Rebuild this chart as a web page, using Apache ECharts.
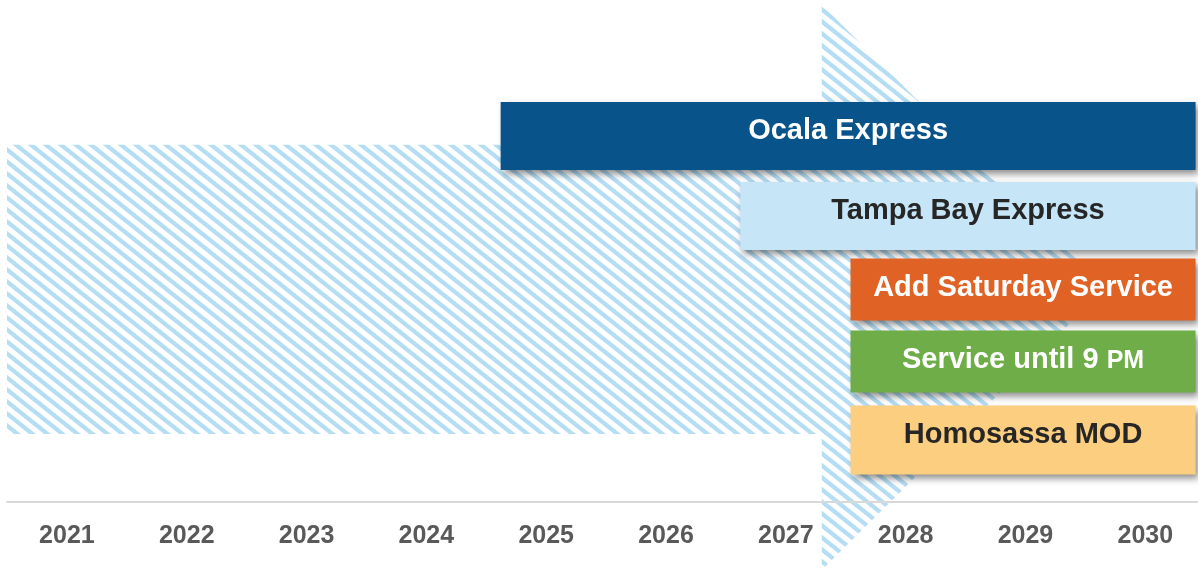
<!DOCTYPE html>
<html>
<head>
<meta charset="utf-8">
<script src="https://cdn.jsdelivr.net/npm/echarts@6/dist/echarts.min.js"></script>
<style>
  html, body { margin: 0; padding: 0; background: #fff; }
  #chart { width: 1198px; height: 571px; }
</style>
</head>
<body>
<div id="chart"></div>
<script>
// timeline data
const years = [2021, 2022, 2023, 2024, 2025, 2026, 2027, 2028, 2029, 2030]
const projects = ['Ocala Express', 'Tampa Bay Express', 'Add Saturday Service', 'Service until 9 PM', 'Homosassa MOD']
const startYear = [2024.62, 2026.62, 2027.54, 2027.54, 2027.54]
const endYear = [2030.42, 2030.42, 2030.42, 2030.42, 2030.42]
const lane = [1.7, 2.7, 3.62, 4.52, 5.5]

// background arrow (x: tail, neck, tip / y: head top, body top, tip, body bottom, head bottom)
const arrowX = [2020.5, 2027.3, 2029.67]
const arrowY = [0.06, 1.81, 3.6, 5.425, 7.125]

const barColors = ['#07538a', '#c6e6f7', '#e06325', '#6ead47', '#fcce80']
const textColors = ['#ffffff', '#262626', '#ffffff', '#ffffff', '#262626']
const barHeights = [68, 68, 62, 62, 69]
const FONT = 'Liberation Sans, Arial, sans-serif'

// diagonal hatch tile
const makeHatch = () => {
  const c = document.createElement('canvas')
  c.width = 15
  c.height = 12
  const ctx = c.getContext('2d')
  ctx.strokeStyle = '#b5ddf4'
  ctx.lineWidth = 4.2
  for (let k = -1; k <= 1; k++) {
    ctx.beginPath()
    ctx.moveTo(-15 + k * 15, -12)
    ctx.lineTo(30 + k * 15, 24)
    ctx.stroke()
  }
  return c
}
const hatch = makeHatch()

const chart = echarts.init(document.getElementById('chart'))
chart.setOption({
  animation: false,
  grid: { left: 7, right: 0, top: 0, bottom: 69 },
  xAxis: {
    type: 'value',
    min: 2020.5,
    max: 2030.44,
    splitLine: { show: false },
    axisTick: { show: false },
    axisLine: { show: true, onZero: false, lineStyle: { color: '#d9d9d9', width: 2 } },
    axisLabel: {
      customValues: years,
      formatter: (v) => String(v),
      color: '#595959',
      fontSize: 25,
      fontWeight: 'bold',
      fontFamily: FONT,
      margin: 22
    },
    z: 1
  },
  yAxis: { type: 'value', min: 0, max: 6.275, inverse: true, show: false },
  series: [
    {
      type: 'custom',
      z: 0,
      data: [[arrowX[0], arrowY[2]]],
      renderItem: (params, api) => {
        const p = (x, y) => api.coord([x, y])
        const pts = [
          p(arrowX[0], arrowY[1]),
          p(arrowX[1], arrowY[1]),
          p(arrowX[1], arrowY[0]),
          p(arrowX[2], arrowY[2]),
          p(arrowX[1], arrowY[4]),
          p(arrowX[1], arrowY[3]),
          p(arrowX[0], arrowY[3])
        ]
        return {
          type: 'polygon',
          shape: { points: pts },
          style: { fill: { image: hatch, repeat: 'repeat' } }
        }
      }
    },
    {
      type: 'custom',
      z: 5,
      data: projects.map((name, i) => [startYear[i], endYear[i], lane[i], i]),
      renderItem: (params, api) => {
        const i = api.value(3)
        const a = api.coord([api.value(0), api.value(2)])
        const b = api.coord([api.value(1), api.value(2)])
        const h = barHeights[i]
        const top = a[1] - h / 2
        let text = projects[i]
        const rich = {
          m: { fontSize: 29, lineHeight: 29, fontWeight: 'bold', fill: textColors[i], fontFamily: FONT },
          s: { fontSize: 25, lineHeight: 25, verticalAlign: 'bottom', fontWeight: 'bold', fill: textColors[i], fontFamily: FONT }
        }
        if (text === 'Service until 9 PM') text = '{m|Service until 9 }{s|PM}'
        else text = '{m|' + text + '}'
        return {
          type: 'group',
          children: [
            {
              type: 'rect',
              shape: { x: a[0], y: top, width: b[0] - a[0], height: h },
              style: {
                fill: barColors[i],
                shadowBlur: 7,
                shadowOffsetX: 3,
                shadowOffsetY: 4,
                shadowColor: 'rgba(0,0,0,0.45)'
              }
            },
            {
              type: 'text',
              x: (a[0] + b[0]) / 2,
              y: top + 29,
              style: {
                text: text,
                rich: rich,
                align: 'center',
                verticalAlign: 'middle'
              }
            }
          ]
        }
      }
    }
  ]
})
</script>
</body>
</html>
